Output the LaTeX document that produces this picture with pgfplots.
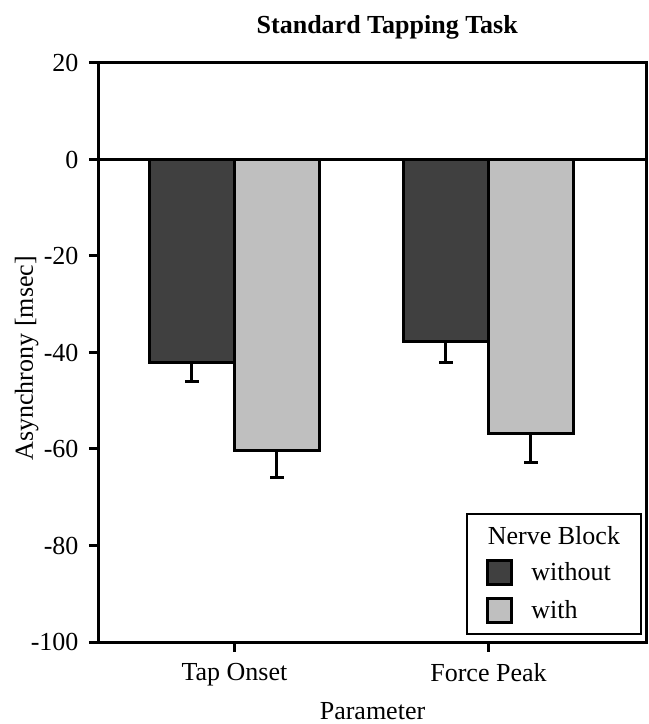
\documentclass[border=0pt]{standalone}
\usepackage{fontspec}
\setmainfont{Liberation Serif}
\usepackage{pgfplots}
\pgfplotsset{compat=1.18}
\definecolor{darkbar}{RGB}{64,64,64}
\definecolor{lightbar}{RGB}{191,191,191}
\newcommand{\fs}{\fontsize{26bp}{30bp}\selectfont}
\begin{document}
\begin{tikzpicture}
\begin{axis}[
  width=547bp, height=579bp, scale only axis,
  xmin=-0.533, xmax=1.62, ymin=-100, ymax=20,
  ytick={20,0,-20,-40,-60,-80,-100},
  yticklabels={20,0,-20,-40,-60,-80,-100},
  xtick={0,1}, xticklabels={Tap Onset,Force Peak},
  tick align=outside, major tick length=10bp,
  xtick pos=bottom, ytick pos=left,
  axis line style={line width=3bp},
  tick style={line width=3bp, black},
  ybar=0pt, bar width=85bp,
  ticklabel style={font=\fs},
  xticklabel style={yshift=-8bp},
  yticklabel style={xshift=-7bp},
  title={\bfseries Standard Tapping Task},
  title style={at={(axis description cs:0.527,1.040)}, anchor=base, font=\fs},
  xlabel={Parameter},
  xlabel style={at={(axis description cs:0.5,-0.133)}, anchor=base, font=\fs},
  ylabel={Asynchrony [msec]},
  ylabel style={at={(axis description cs:-0.1207,0.49)}, anchor=base, font=\fs},
  legend style={at={(axis description cs:1,0)}, anchor=south east,
    xshift=-4bp, yshift=7bp, draw=black, line width=2bp, font=\fs,
    row sep=11bp, inner xsep=19bp, inner ysep=10bp},
  legend cell align=left,
  legend style={cells={anchor=west, inner sep=0bp}},
  legend image code/.code={%
    \draw[#1,draw=black,line width=3bp] (0bp,-12bp) rectangle (24bp,12bp);
    \path[draw=none,fill=none] (-1.5bp,0bp) -- (42bp,0bp);},
]
\addlegendimage{empty legend}
\addlegendentry{\hspace*{-43.5bp}Nerve Block}
\addplot[fill=darkbar, draw=black, line width=3bp,
  error bars/.cd, y dir=minus, y explicit, error mark=|,
  error bar style={line width=3bp, black},
  error mark options={line width=3bp, mark size=7bp, black}]
  coordinates {(0,-42.0) +- (0,4.1) (1,-37.8) +- (0,4.2)};
\addlegendentry{without}
\addplot[fill=lightbar, draw=black, line width=3bp,
  error bars/.cd, y dir=minus, y explicit, error mark=|,
  error bar style={line width=3bp, black},
  error mark options={line width=3bp, mark size=7bp, black}]
  coordinates {(0,-60.4) +- (0,5.6) (1,-56.7) +- (0,6.2)};
\addlegendentry{with}
\draw[line width=3bp] (axis cs:-0.533,0) -- (axis cs:1.62,0);
\end{axis}
\pgfresetboundingbox
\path (-99bp,-82bp) rectangle (550bp,642bp);
\end{tikzpicture}
\end{document}
